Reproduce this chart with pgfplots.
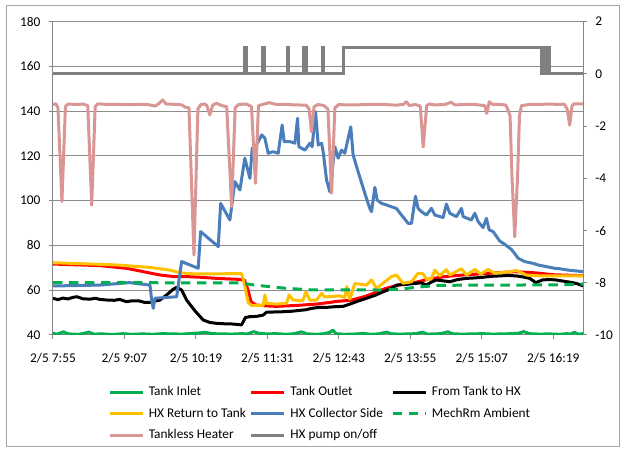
\documentclass[border=0pt]{standalone}
\usepackage{fontspec}
\setmainfont{Carlito}
\usepackage{pgfplots}
\pgfplotsset{compat=1.18}
\definecolor{cInlet}{HTML}{00B050}
\definecolor{cOutlet}{HTML}{FF0000}
\definecolor{cRet}{HTML}{FFC000}
\definecolor{cColl}{HTML}{4A7EBB}
\definecolor{cTankless}{HTML}{D99694}
\definecolor{cPump}{HTML}{7F7F7F}
\definecolor{axgray}{HTML}{868686}
\definecolor{gridgray}{HTML}{8C8C8C}
\begin{document}
\begin{tikzpicture}
\path[use as bounding box] (0pt,0pt) rectangle (467.25pt,339pt);
\draw[gray!70, line width=0.75pt] (4.5pt,3.75pt) rectangle (464.25pt,334.5pt);
\begin{axis}[
  at={(39.75pt,87.75pt)}, anchor=south west,
  scale only axis, width=397.5pt, height=235pt,
  xmin=475, xmax=1009, ymin=40, ymax=180,
  axis x line*=bottom, axis y line*=left,
  axis line style={-, draw=axgray, line width=0.75pt},
  xtick={475,547,619,691,763,835,907,979},
  xticklabels={2/5 7:55,2/5 9:07,2/5 10:19,2/5 11:31,2/5 12:43,2/5 13:55,2/5 15:07,2/5 16:19},
  ytick={40,60,80,100,120,140,160,180},
  yticklabels={40,60,80,100,120,140,160,180},
  ymajorgrids, major grid style={draw=gridgray, line width=0.75pt},
  tick align=outside, major tick length=3pt,
  tick style={draw=axgray, line width=0.75pt},
  yticklabel style={xshift=-2.9pt},
  xticklabel style={yshift=-7.5pt},
  every axis plot/.append style={line width=2.25pt, line join=round},
]
\addplot[cInlet] coordinates {
(475,40.6)(480,40.5)(485.6,41.4)(490,40.5)(500,40.3)(505,40.6)(511.3,41.3)(516,40.4)(525,40.5)(535,40.2)(545,40.6)(555,40.3)(565,40.5)(575,40.3)(585,40.6)(595,40.5)(605,40.4)(615,40.7)(622,40.9)(629,41.2)(635,40.6)(645,40.5)(655,40.4)(665,40.6)(671,40.5)(677.4,41.5)(682,40.8)(690,40.5)(700,40.6)(710,40.3)(718,40.6)(725.3,41.4)(731,40.5)(740,40.3)(748,40.6)(754,41.2)(757,42.2)(760,40.6)(768,40.3)(778,40.4)(788,40.7)(795,40.3)(803,40.5)(811.3,41.3)(816,40.5)(825,40.4)(835,40.5)(842,40.7)(847.2,41.3)(852,40.4)(860,40.5)(867,40.7)(872.8,41.4)(878,40.5)(888,40.4)(898,40.5)(908,40.6)(918,40.4)(928,40.5)(938,40.6)(944,40.8)(949.3,41.5)(955,40.6)(965,40.4)(975,40.5)(985,40.3)(993,40.6)(996,40.4)(1000.7,41.2)(1004,40.3)(1009,40.6)};
\addplot[cOutlet] coordinates {
(475,71.7)(522,71)(549,69.8)(566,68.3)(583,66.8)(596.5,66.1)(609.5,66.1)(623,65.8)(640,65.3)(660,64.9)(668,64.5)(671.5,60.1)(674.5,54.9)(679.5,53.4)(690,53)(700,52.8)(720,53.2)(740,53.8)(755,54.6)(760,55)(775,55.5)(790,57.3)(800,59)(810,60.8)(825,62.5)(840,63.5)(855,65.1)(870,66.1)(888,66.8)(905,67.3)(922,67.8)(940,68.3)(960,67.8)(980,66.9)(1009,66.5)};
\addplot[black] coordinates {
(475,56.4)(480,55.8)(485,56.5)(490,56.1)(495,56.8)(499,57.1)(505,56.2)(512,56)(518,56.4)(522,55.9)(530,55.6)(537,55.5)(542,55.9)(549,54.9)(555,55.3)(562,55.2)(567,54.6)(572.7,54.6)(578,55.2)(582.7,55.6)(589.5,57.9)(596,60.4)(599.6,61.3)(604.6,60.1)(609.6,55.6)(618,50.8)(626.3,46.7)(633,45.6)(639.8,45.2)(648,45)(656.6,44.9)(665,44.5)(668.8,47.8)(673.4,48.2)(680,48.3)(686.8,48.9)(690.2,50.2)(700,50.3)(707,50.4)(715,50.6)(723.7,51)(730,51.3)(735.5,51.9)(743.9,52.4)(750,52.3)(757.3,52.6)(767.3,52.8)(774,53.8)(780.8,54.9)(790.9,56.4)(800,57.8)(807.6,59.3)(815,60.6)(821.1,62.3)(830,62.6)(841.2,63.1)(846,63.3)(851.3,62.3)(856,63.6)(861.4,64.6)(868,64.2)(874.8,63.8)(883,64.8)(891.6,65.3)(900,65.5)(908.3,65.8)(916,66.2)(925.1,66.4)(933,66.6)(941.9,66.4)(948,66)(955.3,65.3)(961.4,63.4)(968.1,64.6)(975,64.8)(981.6,64.6)(990,64)(998.6,63.4)(1004,62.8)(1009,61.9)};
\addplot[cRet] coordinates {
(475,72.3)(539,71.3)(572.7,70.2)(592.8,69)(603,67.8)(616.3,67.3)(665,67.4)(667.6,63.1)(671.7,54.5)(675,53.2)(686.8,53.2)(688.5,57.9)(690.1,54.2)(700.3,53.8)(710.3,54.2)(712.9,57.9)(717,55.6)(726.8,55.4)(729.8,59.3)(733.8,55.6)(740.5,55.6)(745.6,58.6)(748.9,57)(764,57.5)(769,56.8)(771,61.6)(774.1,56)(779.1,63)(790.9,62.3)(796,64.6)(801,60.8)(809.3,63.8)(816.1,66.1)(821.1,66.8)(827.7,63.1)(836.2,63.8)(842.8,67.6)(847.9,67.3)(851.9,64.6)(856.3,65.3)(859.7,69)(864.7,66.5)(871.3,69.2)(874.8,66.8)(886.5,69.6)(891.6,66.8)(900,69.3)(906,67.2)(913.3,69.3)(920.1,67.6)(930.2,68)(941.9,68.8)(952,66.8)(965.4,66.4)(1009,66.4)};
\addplot[cColl] coordinates {
(475,61.9)(522,62.3)(552,63.4)(572.7,62.3)(574.4,55.6)(576,51.9)(577.7,56.4)(599.6,57.1)(604.6,72.8)(613,71.3)(621.3,69.8)(623.7,86.2)(641.5,79.5)(643.9,98.8)(653.2,91.4)(658.3,108.5)(663.3,104.8)(668.3,119)(673.4,110)(675.7,123.4)(680.1,124.9)(685.2,129.4)(688.5,127.9)(691.8,121.2)(696.8,121.9)(701.9,121.2)(705.9,133.8)(707.9,126.4)(713.7,126.4)(718.7,125.7)(721.4,136.8)(722.7,124.1)(728.8,122.6)(733.8,125.7)(736.1,124.1)(739.5,139.8)(742.2,124.9)(745.6,125.7)(747.2,121.9)(750.6,109.3)(753.9,104)(759,124.1)(762.3,119)(765.7,122.6)(769,121.2)(775,133)(777.4,120.4)(782.4,113)(789.2,103.3)(794.2,96.6)(795.9,95.1)(799.3,106)(801.6,100.3)(806,98.8)(811,98.1)(821.1,96.5)(826.1,93.6)(832.8,89.9)(836.2,89.9)(840.2,102)(842.8,96.6)(846.3,95.1)(851.3,93.6)(856.3,96.6)(859.7,93.6)(868,92.5)(871.4,98.5)(874.8,94.4)(881.5,92.9)(886.6,96.6)(888.2,92.9)(896.5,91.4)(900,94.4)(903.3,90.7)(908.3,88)(911.7,92.1)(914.4,87)(918.4,86.2)(925.1,82)(930.2,80.5)(936.9,78.2)(940,76.5)(943.6,74.3)(950.3,72.8)(958.7,72)(963.7,71.3)(980.5,69.8)(985.5,69.6)(993.9,69)(1009,68.3)};
\addplot[cInlet, dash pattern=on 7pt off 5pt] coordinates {
(475,63.4)(663,63.3)(678,62.3)(708.6,60.9)(733.8,60.2)(804,60.1)(824.4,60.5)(844.6,61.5)(864.7,62.2)(925,62.3)(985.5,62.4)(1009,62.8)};
\addplot[cTankless] coordinates {
(475,143)(478,143.3)(480,141.5)(484,99.6)(487.5,142)(490,143.2)(500,143)(505,143.2)(510,142.5)(514,98)(517.5,142)(520,143.3)(530,143)(540,143.1)(550,142.9)(560,143)(570,143)(578,142.3)(582,143.5)(585.5,145)(589,143.2)(600,143)(605,142.8)(608,141.8)(612,141.5)(617,75.7)(621,141)(624,143)(628,143.2)(630,142.5)(633,138.3)(636,142.8)(640,143.5)(645,142.5)(650,142)(655,97.3)(658.5,141.5)(662,143)(670,143.2)(675,142)(679,107.8)(682,142.5)(686,143)(693,143.8)(700,143)(710,143)(720,142.8)(730,142.7)(733,141)(735.5,130.8)(738,142)(742,143)(748,142.5)(752,141)(755.7,103.3)(759,141.5)(763,143)(770,142.8)(780,142.8)(790,143)(800,143)(810,143)(820,142.7)(828,143)(831,144.2)(834,142.5)(840,143)(845,142.3)(848,124)(851.5,142.5)(854,143.2)(860,142.8)(870,143)(876,144)(880,142.8)(890,143)(900,143)(910,142.5)(912,139)(914.5,144.2)(918,143)(925,143)(931,142.8)(933,141)(935.5,138)(937.5,110)(940.2,83.9)(943,110)(945,138)(947,142.5)(955,143)(965,143)(975,143.2)(985,143)(990,143.2)(993,141)(995.6,133.8)(998,142.5)(1000,143.3)(1009,143.3)};
\end{axis}
\begin{axis}[
  at={(39.75pt,87.75pt)}, anchor=south west,
  scale only axis, width=397.5pt, height=235pt,
  xmin=475, xmax=1009, ymin=-10, ymax=2,
  axis y line*=right, axis x line=none,
  axis line style={-, draw=axgray, line width=0.75pt},
  ytick={-10,-8,-6,-4,-2,0,2},
  yticklabels={-10,-8,-6,-4,-2,0,2},
  tick align=outside, major tick length=3pt,
  tick style={draw=axgray, line width=0.75pt},
  yticklabel style={anchor=west, xshift=2.7pt},
  legend columns=3, legend cell align=left,
  legend image code/.code={\draw[#1] (0pt,0pt) -- (24.75pt,0pt);},
  legend style={draw=none, fill=none, at={(0.104,-0.1478)}, anchor=north west,
    inner sep=0pt, row sep=0pt, nodes={inner sep=0pt, minimum height=16.1pt}},
]
\addlegendimage{cInlet, line width=2.25pt}
\addlegendentry{\makebox[79.2pt][l]{\hspace{3.3pt}Tank Inlet}}
\addlegendimage{cOutlet, line width=2.25pt}
\addlegendentry{\makebox[79.2pt][l]{\hspace{3.3pt}Tank Outlet}}
\addlegendimage{black, line width=2.25pt}
\addlegendentry{\makebox[79.2pt][l]{\hspace{3.3pt}From Tank to HX}}
\addlegendimage{cRet, line width=2.25pt}
\addlegendentry{\makebox[79.2pt][l]{\hspace{3.3pt}HX Return to Tank}}
\addlegendimage{cColl, line width=2.25pt}
\addlegendentry{\makebox[79.2pt][l]{\hspace{3.3pt}HX Collector Side}}
\addlegendimage{cInlet, line width=2.25pt, dash pattern=on 7pt off 5pt}
\addlegendentry{\makebox[79.2pt][l]{\hspace{3.3pt}MechRm Ambient}}
\addlegendimage{cTankless, line width=2.25pt}
\addlegendentry{\makebox[79.2pt][l]{\hspace{3.3pt}Tankless Heater}}
\addplot[cPump, line width=2.25pt] coordinates {
(475,0)(668,0)(668,1)(669.5,1)(669.5,0)(685.8,0)(685.8,1)(688.3,1)(688.3,0)(710.9,0)(710.9,1)(712.4,1)(712.4,0)(727.7,0)(727.7,1)(730.2,1)(730.2,0)(746.5,0)(746.5,1)(748,1)(748,0)(767.5,0)(767.5,1)(967,1)(967,0)(968,0)(968,1)(969,1)(969,0)(970,0)(970,1)(971,1)(971,0)(972,0)(972,1)(973,1)(973,0)(974,0)(974,1)(975,1)(975,0)(1009,0)};
\addlegendentry{\makebox[79.2pt][l]{\hspace{3.3pt}HX pump on/off}}
\end{axis}
\end{tikzpicture}
\end{document}
